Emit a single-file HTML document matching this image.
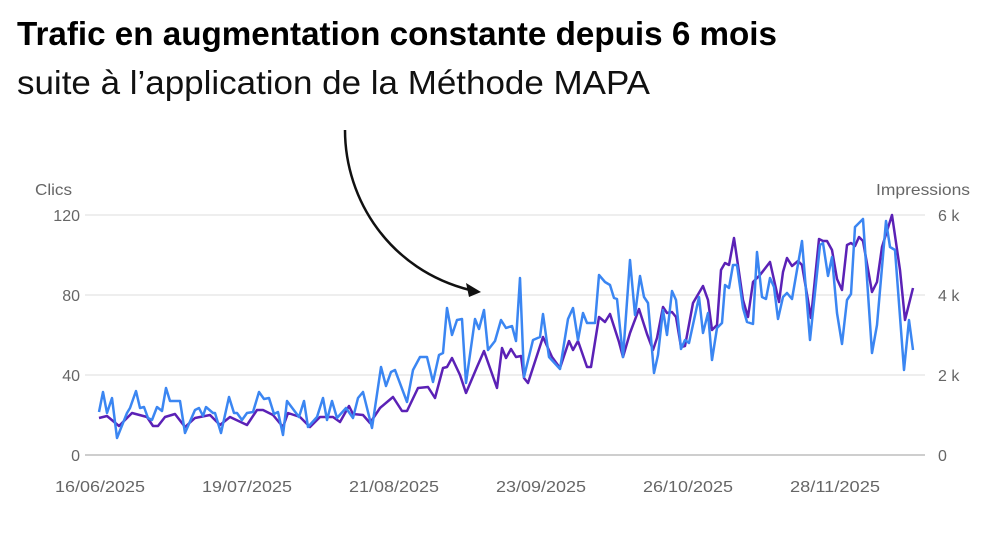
<!DOCTYPE html>
<html><head><meta charset="utf-8"><style>
html,body{margin:0;padding:0;background:#fff;width:1000px;height:535px;overflow:hidden}
svg{display:block;font-family:"Liberation Sans",Arial,sans-serif}
</style></head><body>
<svg width="1000" height="535" viewBox="0 0 1000 535">
<text x="17" y="45" font-size="33" font-weight="bold" fill="#000" textLength="760" lengthAdjust="spacingAndGlyphs">Trafic en augmentation constante depuis 6 mois</text>
<text x="17" y="94" font-size="33" fill="#111" textLength="633" lengthAdjust="spacingAndGlyphs">suite à l’application de la Méthode MAPA</text>
<g stroke="#e8e8e8" stroke-width="1.5">
<line x1="85" y1="215" x2="925" y2="215"/><line x1="85" y1="295" x2="925" y2="295"/><line x1="85" y1="375" x2="925" y2="375"/>
</g>
<line x1="85" y1="455" x2="925" y2="455" stroke="#bdbdbd" stroke-width="1.5"/>
<g fill="#666" font-size="16">
<text x="35" y="195" textLength="37" lengthAdjust="spacingAndGlyphs">Clics</text>
<text x="876" y="195" textLength="94" lengthAdjust="spacingAndGlyphs">Impressions</text>
<g text-anchor="end"><text x="80" y="221">120</text><text x="80" y="301">80</text><text x="80" y="381">40</text><text x="80" y="461">0</text></g>
<g><text x="938" y="221">6 k</text><text x="938" y="301">4 k</text><text x="938" y="381">2 k</text><text x="938" y="461">0</text></g>
<g text-anchor="middle" font-size="16">
<text x="100" y="492" textLength="90" lengthAdjust="spacingAndGlyphs">16/06/2025</text>
<text x="247" y="492" textLength="90" lengthAdjust="spacingAndGlyphs">19/07/2025</text>
<text x="394" y="492" textLength="90" lengthAdjust="spacingAndGlyphs">21/08/2025</text>
<text x="541" y="492" textLength="90" lengthAdjust="spacingAndGlyphs">23/09/2025</text>
<text x="688" y="492" textLength="90" lengthAdjust="spacingAndGlyphs">26/10/2025</text>
<text x="835" y="492" textLength="90" lengthAdjust="spacingAndGlyphs">28/11/2025</text></g>
</g>
<polyline fill="none" stroke="#5b21b6" stroke-width="2.5" stroke-linejoin="round" points="99,418 107,416 119,426 132,413 147,417 153,426 158,426 165,417 175,414 185,427 195,418 210,415 220,425 230,417 247,425 257,410 263,410 273,415 283,427 288,413 300,417 310,427 320,417 333,417 340,422 349,406 353,414 363,415 370,423 380,408 393,397 402,411 407,411 418,388 428,387 435,398 443,368 447,367 452,358 460,375 466,393 477,367 484,351 497,388 502,348 506,358 511,349 516,357 521,356 524,378 528,383 543,337 552,357 560,368 569,341 573,350 578,341 587,367 591,367 599,317 605,322 610,314 619,342 623,357 630,333 639,309 647,334 653,350 657,338 663,307 667,313 672,312 676,317 681,347 685,346 693,303 703,286 708,300 712,330 717,325 721,270 725,263 729,265 734,238 739,272 743,300 748,317 753,282 760,275 770,262 779,302 783,272 787,258 792,266 798,261 802,265 811,318 819,239 823,241 827,241 832,250 837,279 842,290 847,245 851,243 855,246 859,237 863,241 872,292 877,282 882,247 892,215 900,270 905,320 913,288"/>
<polyline fill="none" stroke="#3b86f2" stroke-width="2.5" stroke-linejoin="round" points="99,412 103,392 107,413 112,398 117,438 127,413 130,408 136,391 140,408 144,407 148,418 152,420 157,407 162,411 166,388 170,401 180,401 185,433 195,410 199,408 203,416 206,407 213,413 215,413 221,433 229,397 234,413 237,413 242,420 247,413 253,412 259,392 264,399 269,398 274,414 278,412 283,435 287,401 299,417 304,401 308,427 317,417 323,398 327,420 332,401 337,418 346,408 353,418 358,398 363,392 372,428 381,367 386,386 391,372 395,370 407,402 413,370 420,357 427,357 433,382 439,355 443,353 447,308 452,335 457,320 462,319 466,383 475,319 479,329 484,310 488,350 495,341 501,320 506,328 512,326 516,341 520,278 524,377 533,340 540,337 543,314 549,357 560,369 568,319 573,308 578,340 583,313 587,323 595,323 599,275 605,282 610,285 614,298 617,299 623,357 630,260 635,315 640,276 644,297 648,303 654,373 658,355 663,310 667,335 672,291 676,300 681,349 685,340 689,343 699,297 703,333 708,313 712,360 717,328 722,323 725,285 729,288 733,265 737,265 743,308 747,322 753,324 757,252 762,297 766,299 770,278 774,287 778,319 783,297 787,293 792,299 802,241 810,340 820,245 823,243 828,276 832,257 837,313 842,344 847,300 851,294 855,227 863,219 872,353 877,325 886,221 890,247 895,250 904,370 909,320 913,350"/>
<path d="M345,130 C345,200 390,270 470,290" fill="none" stroke="#111" stroke-width="2.5"/>
<polygon points="481,292 466,283 469,297" fill="#111"/>
</svg>
</body></html>
